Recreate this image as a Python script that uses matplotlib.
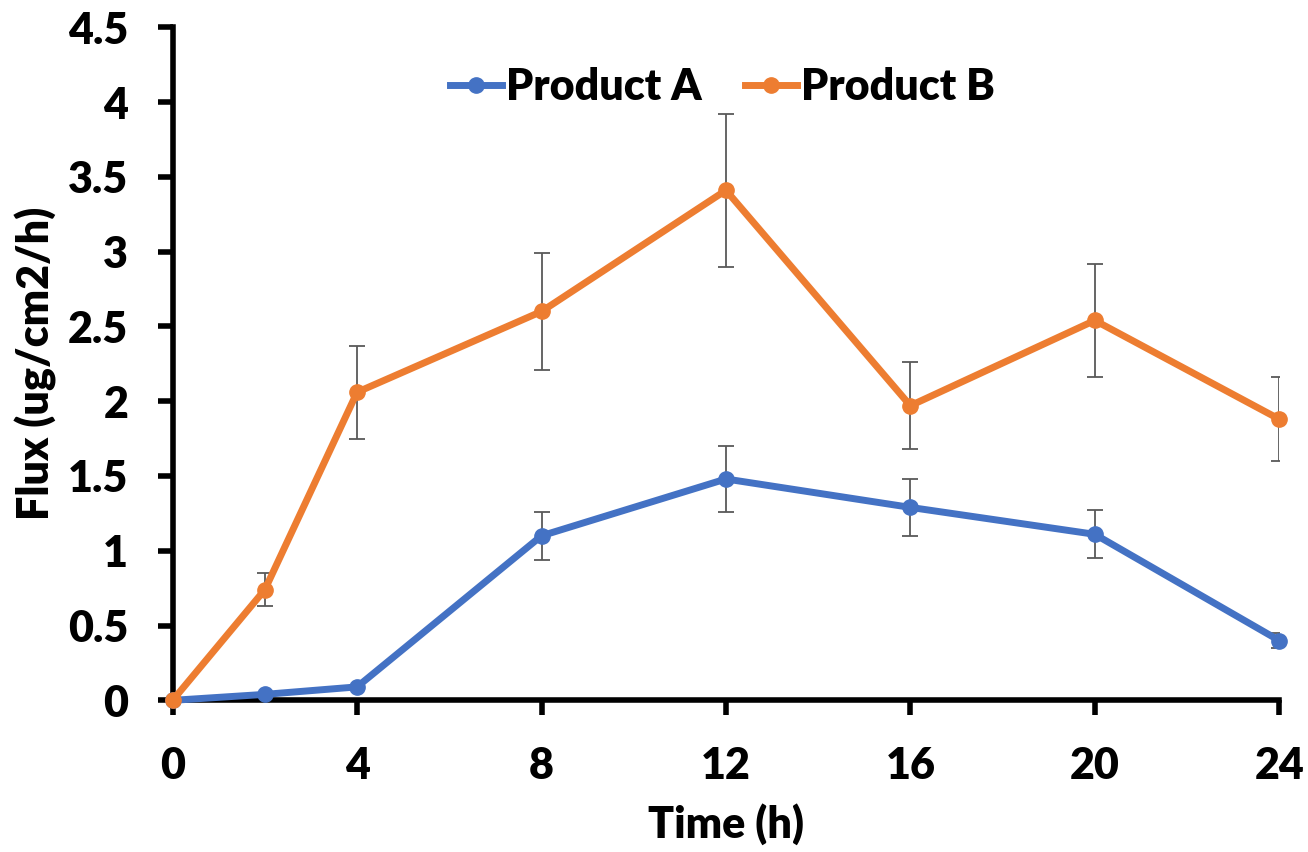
import numpy as np
import matplotlib.pyplot as plt

plt.rcParams['font.family'] = ['Lato', 'DejaVu Sans']

time_h = [0, 2, 4, 8, 12, 16, 20, 24]
flux_a = [0, 0.04, 0.09, 1.10, 1.48, 1.29, 1.11, 0.40]
err_a = [0, 0.01, 0.01, 0.16, 0.22, 0.19, 0.16, 0.05]
flux_b = [0, 0.74, 2.06, 2.60, 3.41, 1.97, 2.54, 1.88]
err_b = [0, 0.11, 0.31, 0.39, 0.51, 0.29, 0.38, 0.28]

x_ticks = [0, 4, 8, 12, 16, 20, 24]
y_ticks = [0, 0.5, 1, 1.5, 2, 2.5, 3, 3.5, 4, 4.5]
y_labels = ['0', '0.5', '1', '1.5', '2', '2.5', '3', '3.5', '4', '4.5']

fs = 31
wt = 'heavy'

fig = plt.figure(figsize=(13.08, 8.52), dpi=100)
ax = fig.add_axes([0.132, 0.178, 0.846, 0.79])

for y, e, c, lab in [(flux_a, err_a, '#4472C4', 'Product A'),
                     (flux_b, err_b, '#ED7D31', 'Product B')]:
    ax.errorbar(time_h, y, yerr=e, fmt='none', ecolor='#595959',
                elinewidth=1.3, capsize=6, capthick=1.3, zorder=2)
    ax.plot(time_h, y, color=c, lw=5, marker='o', ms=11, label=lab,
            zorder=3, clip_on=False)

ax.set_xlim(0, 24)
ax.set_ylim(0, 4.5)
ax.set_xticks(x_ticks)
ax.set_yticks(y_ticks)
ax.set_yticklabels(y_labels)
ax.tick_params(labelsize=fs, width=4, length=11, direction='out')
ax.tick_params(axis='x', pad=22)
ax.tick_params(axis='y', pad=21)
for t in ax.get_xticklabels() + ax.get_yticklabels():
    t.set_fontweight(wt)
for s in ['top', 'right']:
    ax.spines[s].set_visible(False)
for s in ['left', 'bottom']:
    ax.spines[s].set_linewidth(4)

ax.set_xlabel('Time (h)', fontsize=fs, fontweight=wt, labelpad=12)
ax.set_ylabel('Flux (ug/cm2/h)', fontsize=fs, fontweight=wt, labelpad=8)

ax.legend(loc='center', bbox_to_anchor=(0.497, 0.911), ncol=2, frameon=False,
          handlelength=1.2, handletextpad=0.1, columnspacing=1.0,
          prop={'weight': wt, 'size': fs})

fig.savefig('out.png', dpi=100)
